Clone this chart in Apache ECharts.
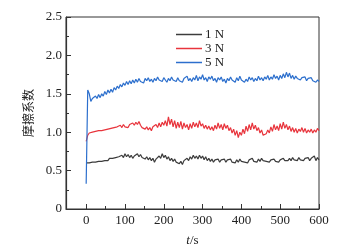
<!DOCTYPE html>
<html>
<head>
<meta charset="utf-8">
<script src="https://cdn.jsdelivr.net/npm/echarts@6/dist/echarts.min.js"></script>
<style>
  html, body { margin: 0; padding: 0; background: #fff; }
  #chart { width: 348px; height: 252px; }
</style>
</head>
<body>
<div id="chart"></div>
<script>
// friction coefficient vs time, sampled every 4 s from 0 to 600 s
const sampleStep = 4;
const seriesNames = ["1 N", "3 N", "5 N"];
const seriesColors = ["#3c3c3c", "#e8343c", "#2c6fcd"];

const load1N = [
  0.60, 0.62, 0.60, 0.62, 0.61, 0.63, 0.61, 0.63, 0.62, 0.64,
  0.62, 0.64, 0.63, 0.65, 0.63, 0.66, 0.64, 0.66, 0.65, 0.67,
  0.65, 0.68, 0.66, 0.70, 0.67, 0.72, 0.68, 0.71, 0.67, 0.70,
  0.66, 0.69, 0.67, 0.72, 0.68, 0.71, 0.67, 0.69, 0.65, 0.68,
  0.64, 0.67, 0.63, 0.66, 0.61, 0.65, 0.63, 0.69, 0.66, 0.72,
  0.67, 0.70, 0.65, 0.68, 0.63, 0.66, 0.62, 0.65, 0.61, 0.63,
  0.59, 0.62, 0.58, 0.63, 0.61, 0.66, 0.63, 0.68, 0.65, 0.70,
  0.66, 0.69, 0.65, 0.70, 0.66, 0.69, 0.64, 0.68, 0.63, 0.66,
  0.62, 0.65, 0.61, 0.64, 0.62, 0.65, 0.61, 0.64, 0.62, 0.65,
  0.61, 0.64, 0.62, 0.65, 0.61, 0.63, 0.60, 0.64, 0.61, 0.65,
  0.62, 0.64, 0.61, 0.63, 0.60, 0.64, 0.62, 0.66, 0.62, 0.64,
  0.61, 0.65, 0.62, 0.66, 0.63, 0.65, 0.62, 0.64, 0.61, 0.64,
  0.62, 0.65, 0.62, 0.64, 0.61, 0.64, 0.62, 0.66, 0.63, 0.65,
  0.63, 0.66, 0.63, 0.67, 0.64, 0.66, 0.63, 0.67, 0.64, 0.66,
  0.63, 0.66, 0.64, 0.67, 0.63, 0.66, 0.64, 0.69, 0.63, 0.67,
  0.64
];

const load3N = [
  0.88, 0.96, 0.99, 0.97, 1.00, 0.98, 1.01, 0.99, 1.02, 1.00,
  1.02, 1.00, 1.03, 1.01, 1.04, 1.02, 1.05, 1.03, 1.06, 1.04,
  1.07, 1.05, 1.09, 1.06, 1.10, 1.07, 1.09, 1.06, 1.10, 1.08,
  1.12, 1.09, 1.13, 1.10, 1.14, 1.09, 1.06, 1.08, 1.04, 1.07,
  1.03, 1.06, 1.02, 1.07, 1.05, 1.10, 1.06, 1.12, 1.07, 1.13,
  1.09, 1.15, 1.08, 1.20, 1.10, 1.17, 1.07, 1.15, 1.05, 1.13,
  1.06, 1.14, 1.04, 1.12, 1.06, 1.10, 1.03, 1.11, 1.05, 1.13,
  1.07, 1.12, 1.06, 1.15, 1.08, 1.11, 1.05, 1.09, 1.04, 1.08,
  1.03, 1.07, 1.02, 1.09, 1.04, 1.12, 1.05, 1.10, 1.03, 1.11,
  1.05, 1.09, 1.02, 1.06, 0.99, 1.04, 0.96, 1.02, 0.93, 1.00,
  0.96, 1.04, 0.98, 1.08, 1.01, 1.10, 1.03, 1.12, 1.04, 1.09,
  1.02, 1.06, 0.99, 1.03, 0.96, 0.94, 0.98, 1.03, 0.99, 1.07,
  1.01, 1.10, 1.03, 1.08, 1.02, 1.11, 1.04, 1.13, 1.05, 1.10,
  1.03, 1.08, 1.01, 1.06, 1.00, 1.05, 0.99, 1.04, 1.01, 1.06,
  1.00, 1.05, 0.99, 1.03, 1.00, 1.04, 0.99, 1.03, 1.00, 1.05,
  1.02
];

const load5N = [
  0.33, 1.55, 1.50, 1.40, 1.44, 1.42, 1.47, 1.44, 1.49, 1.45,
  1.50, 1.47, 1.53, 1.49, 1.55, 1.51, 1.56, 1.52, 1.58, 1.55,
  1.60, 1.57, 1.62, 1.59, 1.64, 1.61, 1.66, 1.62, 1.67, 1.63,
  1.68, 1.64, 1.69, 1.65, 1.70, 1.66, 1.68, 1.64, 1.70, 1.67,
  1.71, 1.66, 1.69, 1.65, 1.70, 1.67, 1.72, 1.68, 1.70, 1.66,
  1.71, 1.68, 1.65, 1.70, 1.67, 1.72, 1.68, 1.70, 1.66, 1.71,
  1.67, 1.69, 1.65, 1.70, 1.68, 1.73, 1.67, 1.70, 1.66, 1.71,
  1.68, 1.74, 1.67, 1.72, 1.69, 1.75, 1.68, 1.71, 1.66, 1.72,
  1.69, 1.73, 1.67, 1.70, 1.65, 1.71, 1.68, 1.72, 1.66, 1.69,
  1.64, 1.70, 1.67, 1.72, 1.68, 1.70, 1.65, 1.71, 1.67, 1.73,
  1.68, 1.70, 1.65, 1.69, 1.66, 1.72, 1.68, 1.71, 1.66, 1.70,
  1.67, 1.73, 1.68, 1.71, 1.67, 1.72, 1.69, 1.74, 1.68, 1.72,
  1.69, 1.75, 1.70, 1.73, 1.68, 1.74, 1.70, 1.76, 1.71, 1.78,
  1.72, 1.77, 1.70, 1.74, 1.69, 1.73, 1.70, 1.72, 1.68, 1.71,
  1.69, 1.72, 1.67, 1.70, 1.68, 1.71, 1.67, 1.69, 1.65, 1.68,
  1.66
];

const xMajorTicks = [0, 100, 200, 300, 400, 500, 600];
const xMinorTicks = [50, 150, 250, 350, 450, 550];

const serif = "Liberation Serif";
const toPairs = arr => arr.map((v, i) => [i * sampleStep, v]);

const chart = echarts.init(document.getElementById("chart"), null, { renderer: "canvas" });

chart.setOption({
  backgroundColor: "#fff",
  animation: false,
  grid: {
    left: 66, top: 17, right: 29, bottom: 42,
    show: true, borderColor: "#333", borderWidth: 1, backgroundColor: "transparent"
  },
  legend: {
    orient: "vertical",
    left: 171, top: 23,
    icon: "rect",
    itemWidth: 26, itemHeight: 1.5,
    itemGap: 1,
    textStyle: { fontFamily: serif, fontSize: 13, color: "#222", padding: [0, 0, 0, -2] },
    data: seriesNames
  },
  xAxis: [{
    type: "value",
    min: -52, max: 600,
    position: "bottom",
    axisLine: { show: true, onZero: false, lineStyle: { color: "#333", width: 1.2 } },
    axisTick: { show: true, inside: true, length: 5, customValues: xMajorTicks, lineStyle: { color: "#333" } },
    axisLabel: { customValues: xMajorTicks, fontFamily: serif, fontSize: 13, color: "#222", margin: 5 },
    splitLine: { show: false },
    name: "{i|t}/s",
    nameLocation: "middle",
    nameGap: 25,
    nameTextStyle: {
      fontFamily: serif, fontSize: 13, color: "#222",
      rich: { i: { fontFamily: serif, fontStyle: "italic", fontSize: 13, color: "#222" } }
    }
  }, {
    type: "value",
    min: -52, max: 600,
    position: "bottom",
    axisLine: { show: false, onZero: false },
    axisTick: { show: true, inside: true, length: 3, customValues: xMinorTicks, lineStyle: { color: "#333" } },
    axisLabel: { show: false },
    splitLine: { show: false }
  }],
  yAxis: {
    type: "value",
    min: 0, max: 2.5, interval: 0.5,
    axisLine: { show: true, onZero: false, lineStyle: { color: "#333", width: 1.2 } },
    axisTick: { show: true, inside: true, length: 5, lineStyle: { color: "#333" } },
    minorTick: { show: true, splitNumber: 2, length: 3, lineStyle: { color: "#333" } },
    axisLabel: {
      fontFamily: serif, fontSize: 13, color: "#222", margin: 4,
      formatter: v => (v === 0 ? "0" : v.toFixed(1))
    },
    splitLine: { show: false },
    name: "摩擦系数",
    nameLocation: "middle",
    nameRotate: 90,
    nameGap: 32,
    nameTextStyle: { fontFamily: "Noto Sans CJK SC", fontSize: 12, color: "#222" }
  },
  series: [load1N, load3N, load5N].map((arr, k) => ({
    name: seriesNames[k],
    type: "line",
    xAxisIndex: 0,
    symbol: "none",
    color: seriesColors[k],
    lineStyle: { width: 1.2, color: seriesColors[k] },
    data: toPairs(arr)
  }))
});
</script>
</body>
</html>
